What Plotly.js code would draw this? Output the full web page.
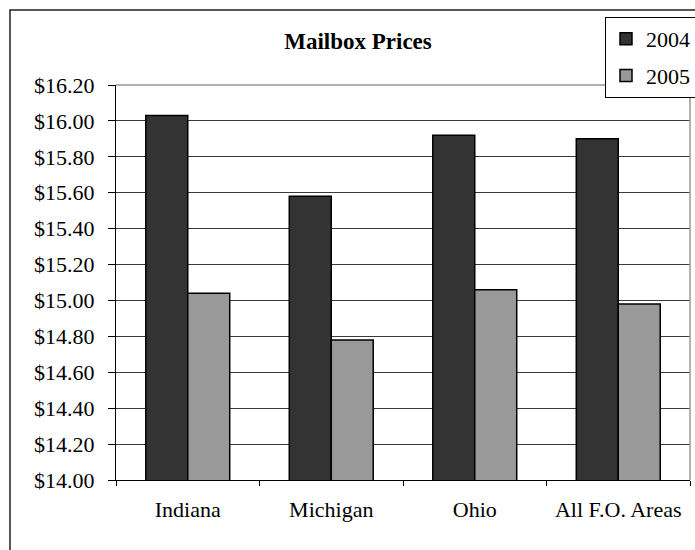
<!DOCTYPE html>
<html>
<head>
<meta charset="utf-8">
<script src="https://cdn.plot.ly/plotly-3.0.1.min.js"></script>
<style>
html,body{margin:0;padding:0;background:#fff;}
#chart{width:695px;height:550px;}
</style>
</head>
<body>
<div id="chart"></div>
<script>
const categories = ["Indiana", "Michigan", "Ohio", "All F.O. Areas"];
const series2004 = [16.03, 15.58, 15.92, 15.90];
const series2005 = [15.04, 14.78, 15.06, 14.98];
const seriesNames = ["2004", "2005"];
const yTickVals = [14.0, 14.2, 14.4, 14.6, 14.8, 15.0, 15.2, 15.4, 15.6, 15.8, 16.0, 16.2];
const yTickText = ["$14.00", "$14.20", "$14.40", "$14.60", "$14.80", "$15.00",
                   "$15.20", "$15.40", "$15.60", "$15.80", "$16.00", "$16.20"];

const serif = "Liberation Serif";

const traces = [
  {
    type: "bar", name: seriesNames[0], x: categories, y: series2004,
    marker: {color: "#333333", line: {color: "#000000", width: 1.5}},
    legendgroup: "a", hoverinfo: "skip"
  },
  {
    type: "bar", name: seriesNames[1], x: categories, y: series2005,
    marker: {color: "#999999", line: {color: "#000000", width: 1.5}},
    legendgroup: "b", hoverinfo: "skip"
  }
];

const layout = {
  width: 695, height: 550,
  margin: {l: 116, r: 5, t: 85, b: 70, autoexpand: false},
  paper_bgcolor: "#ffffff", plot_bgcolor: "#ffffff",
  font: {family: serif, color: "#000000", size: 22},
  barmode: "group", bargap: 0.415, bargroupgap: 0,
  title: {
    text: "<b>Mailbox Prices</b>",
    font: {family: serif, size: 23, color: "#000000"},
    x: 358/695, xref: "container", xanchor: "center",
    y: 1 - 41/550, yref: "container", yanchor: "middle"
  },
  xaxis: {
    type: "category",
    showline: true, linecolor: "#000000", linewidth: 1,
    ticks: "outside", tickson: "boundaries", ticklen: 5, tickcolor: "#000000",
    tickfont: {family: serif, size: 22, color: "#000000"},
    ticklabelstandoff: 10,
    showgrid: false, zeroline: false
  },
  yaxis: {
    range: [14, 16.2], tickmode: "array", tickvals: yTickVals, ticktext: yTickText,
    showline: true, linecolor: "#000000", linewidth: 1,
    ticks: "outside", ticklen: 7, tickcolor: "#000000",
    tickfont: {family: serif, size: 22, color: "#000000"},
    ticklabelstandoff: 9,
    showgrid: true, gridcolor: "#3a3a3a", gridwidth: 1,
    zeroline: false
  },
  legend: {
    x: (605-116)/574, xanchor: "left", xref: "paper",
    y: (480-17)/395, yanchor: "top", yref: "paper",
    bgcolor: "#ffffff", bordercolor: "#000000", borderwidth: 1,
    font: {family: serif, size: 22, color: "#000000"},
    traceorder: "grouped", tracegroupgap: 5, itemwidth: 30
  },
  showlegend: true,
  shapes: [
    {type: "rect", xref: "paper", yref: "paper",
     x0: (10-116)/574, x1: (705-116)/574, y0: (480-565)/395, y1: (480-10)/395,
     line: {color: "#222222", width: 1.5}, fillcolor: "rgba(0,0,0,0)", layer: "below"},
    {type: "line", xref: "paper", yref: "paper", x0: 0, x1: 1, y0: 1, y1: 1,
     line: {color: "#999999", width: 1.5}},
    {type: "line", xref: "paper", yref: "paper", x0: 1, x1: 1, y0: 0, y1: 1,
     line: {color: "#999999", width: 1.5}}
  ]
};

Plotly.newPlot("chart", traces, layout, {staticPlot: true, displayModeBar: false});
</script>
</body>
</html>
